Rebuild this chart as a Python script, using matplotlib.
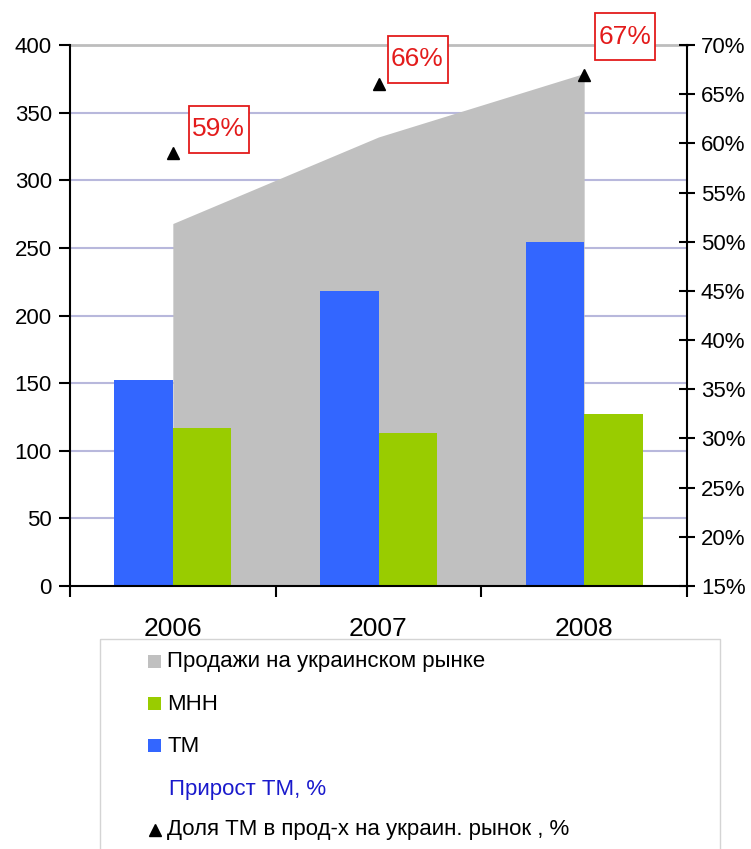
import numpy as np
import matplotlib.pyplot as plt
from matplotlib.patches import Rectangle

plt.rcParams['font.family'] = ['Liberation Sans', 'DejaVu Sans']

# data
years = ["2006", "2007", "2008"]
sales = [268, 332, 379]          # Продажи на украинском рынке
mnn = [117, 113, 127]            # МНН
tm = [152, 218, 254]             # ТМ
share = [59, 66, 67]             # Доля ТМ, %
share_labels = ["59%", "66%", "67%"]

legend_labels = ["Продажи на украинском рынке", "МНН", "ТМ",
                 "Прирост ТМ, %", "Доля ТМ в прод-х на украин. рынок , %"]

gray = "#c0c0c0"
green = "#99cc00"
blue = "#3366ff"
red = "#e31b1b"

fig = plt.figure(figsize=(7.51, 8.49), dpi=100)
ax = fig.add_axes([70 / 751, 1 - 586 / 849, 617 / 751, 541 / 849])
x = np.arange(len(years))

# grid lines
for v in range(50, 400, 50):
    ax.axhline(v, color="#b8b8dc", lw=1.5, zorder=0)
ax.axhline(400, color="#bdbdbd", lw=2, zorder=0, clip_on=False)

# area + bars
ax.fill_between(x, 0, sales, color=gray, lw=0, zorder=1)
w = 0.285
ax.bar(x - w / 2, tm, width=w, color=blue, zorder=2)
ax.bar(x + w / 2, mnn, width=w, color=green, zorder=2)

ax.set_xlim(-0.5, 2.5)
ax.set_ylim(0, 400)
ax.set_yticks(range(0, 401, 50))
ax.set_xticks([-0.5, 0.5, 1.5, 2.5])
ax.set_xticklabels([])
ax.set_xticks(x, minor=True)
ax.set_xticklabels(years, minor=True, fontsize=19)
ax.tick_params(axis="x", which="minor", length=0, pad=22)
ax.tick_params(axis="x", which="major", length=8, width=1.5, direction="out")
ax.tick_params(axis="y", length=8, width=1.5, labelsize=16, pad=5)
for s in ["top", "right"]:
    ax.spines[s].set_visible(False)
ax.spines["left"].set_linewidth(1.5)
ax.spines["bottom"].set_linewidth(1.5)

# right axis for share
ax2 = ax.twinx()
ax2.set_ylim(15, 70)
ax2.set_yticks(range(15, 71, 5))
ax2.set_yticklabels([f"{v}%" for v in range(15, 71, 5)])
ax2.tick_params(axis="y", length=12, width=1.5, direction="inout", labelsize=16, pad=4)
for s in ["top", "left", "bottom"]:
    ax2.spines[s].set_visible(False)
ax2.spines["right"].set_linewidth(1.5)
ax2.plot(x, share, linestyle="none", marker="^", color="black", markersize=9, zorder=5, clip_on=False)

# boxed value labels (offsets in pixels: right, up)
offsets = [(46, 24), (39, 25), (41, 38)]
box_w, box_h = 60, 47
for xi, yi, lab, (dx, dy) in zip(x, share, share_labels, offsets):
    px, py = ax2.transData.transform((xi, yi))
    cx, cy = px + dx, py + dy
    fig.add_artist(Rectangle((cx - box_w / 2, cy - box_h / 2), box_w, box_h,
                             transform=None, fc="white", ec=red, lw=1.3, zorder=6))
    fig.text(cx / 751, cy / 849, lab, ha="center", va="center", color=red,
             fontsize=19, zorder=7)

# legend panel
lg = fig.add_axes([0, 0, 1, 1], zorder=-1)
lg.set_xlim(0, 751)
lg.set_ylim(849, 0)
lg.axis("off")
lg.add_patch(Rectangle((100, 639), 620, 215, fill=False, ec="#d4d4d4", lw=1))
rows_y = [662, 704, 746, 789, 830]
colors = [gray, green, blue]
for yy, c in zip(rows_y[:3], colors):
    lg.add_patch(Rectangle((148, yy - 7), 13, 13, fc=c, ec="none"))
for yy, lab in zip(rows_y[:3], legend_labels[:3]):
    lg.text(167, yy, lab, va="center", fontsize=16)
lg.text(169, rows_y[3], legend_labels[3], va="center", fontsize=16, color="#1a1acc")
lg.plot([155], [rows_y[4]], marker="^", color="black", markersize=9, linestyle="none")
lg.text(167, rows_y[4], legend_labels[4], va="center", fontsize=16)

fig.savefig("out.png", dpi=100)
